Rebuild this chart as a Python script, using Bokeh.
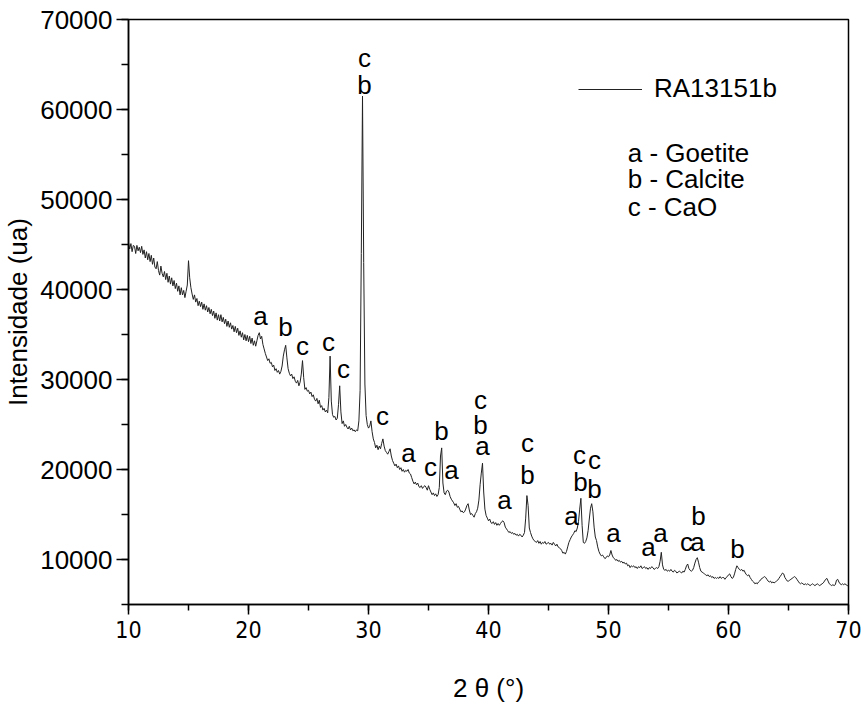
from bokeh.plotting import figure
from bokeh.models import (Range1d, SingleIntervalTicker, Legend, LegendItem,
                          ColumnDataSource, BasicTickFormatter)
from bokeh.core.properties import value
from bokeh.embed import file_html
from bokeh.resources import INLINE

# ---------------- data ----------------
series_name = "RA13151b"
# 2-theta sampling grid, 0.1 degree step from 10 to 70
two_theta = [round(10 + i * 0.1, 1) for i in range(601)]
# intensity, one row per degree (x = d.0 ... d.9)
intensity = [
    45200, 44500, 45100, 44200, 44900, 44800, 44000, 44900, 44300, 44700,  # 10
    44100, 44800, 43900, 44400, 43500, 44200, 43300, 44000, 43100, 43800,  # 11
    42800, 43500, 42500, 42300, 43100, 42100, 41600, 42600, 41800, 41400,  # 12
    42000, 41100, 41800, 40800, 41500, 40600, 41300, 40400, 41000, 40100,  # 13
    40700, 39800, 40400, 39400, 40200, 39400, 39900, 39100, 39800, 40500,  # 14
    43200, 41300, 40200, 39500, 38900, 39400, 38600, 39000, 38200, 38700,  # 15
    38100, 38600, 37800, 38400, 37700, 38200, 37500, 38000, 37300, 37800,  # 16
    37100, 37600, 36800, 37400, 36600, 37200, 36500, 37200, 36400, 36900,  # 17
    36200, 36700, 35900, 36500, 35800, 36300, 35600, 36000, 35300, 35900,  # 18
    35200, 35700, 34900, 35400, 34700, 35200, 34400, 35000, 34300, 34900,  # 19
    34200, 34800, 34000, 34600, 33800, 34300, 33700, 34300, 34900, 35200,  # 20
    34500, 34800, 33900, 33400, 32900, 32500, 32100, 32300, 31800, 31900,  # 21
    31400, 31600, 31000, 31200, 30800, 31000, 30600, 30900, 31500, 32600,  # 22
    33300, 33800, 32400, 31200, 30700, 30400, 30600, 30100, 30300, 29800,  # 23
    29600, 29900, 29300, 29700, 30600, 32100, 30200, 28900, 29100, 28700,  # 24
    28800, 28400, 28600, 28100, 28300, 27800, 27600, 27900, 27300, 27700,  # 25
    26900, 27100, 26600, 26800, 26400, 26600, 26300, 28000, 32600, 27600,  # 26
    26100, 25800, 25900, 25500, 25700, 27200, 29300, 26400, 25100, 25400,  # 27
    24800, 25000, 24700, 24500, 24800, 24400, 24600, 24300, 24400, 24200,  # 28
    24400, 24300, 25400, 28800, 44000, 61500, 43000, 29500, 26000, 25000,  # 29
    24600, 24800, 25400, 24200, 23400, 23000, 22400, 22700, 22200, 22600,  # 30
    22300, 22900, 23400, 22600, 22100, 21900, 21700, 22000, 22300, 21500,  # 31
    21000, 20700, 20400, 20600, 20200, 20400, 20000, 20200, 19800, 20000,  # 32
    19700, 19900, 19800, 20000, 19600, 19500, 19100, 18700, 18400, 18600,  # 33
    18300, 18500, 18100, 18000, 18200, 17900, 18100, 18200, 18000, 17700,  # 34
    18200, 17800, 17500, 17200, 17400, 17100, 17300, 17000, 17200, 18000,  # 35
    21500, 22400, 18500, 17400, 17200, 17600, 17700, 17500, 17000, 16700,  # 36
    16500, 16300, 16000, 16200, 15800, 15900, 15600, 15300, 15400, 15200,  # 37
    15300, 15600, 16000, 16200, 15500, 15000, 15100, 14900, 14700, 15100,  # 38
    15300, 15700, 16600, 18300, 19600, 20700, 17500, 15600, 14900, 14600,  # 39
    14300, 14500, 14100, 14000, 14200, 13900, 14100, 13800, 14000, 13800,  # 40
    14000, 14200, 14300, 14100, 13600, 13400, 13200, 13000, 13100, 12900,  # 41
    13000, 12800, 12900, 12700, 12800, 12600, 12800, 12700, 12500, 12700,  # 42
    13000, 14600, 17100, 16000, 13500, 13000, 12600, 12300, 12100, 12000,  # 43
    11900, 12100, 11800, 12000, 11700, 11900, 11800, 12000, 11700, 11800,  # 44
    11900, 11700, 11800, 11600, 11900, 11700, 11500, 11700, 11400, 11300,  # 45
    11200, 11000, 10700, 10800, 10600, 10900, 11400, 11900, 12200, 12500,  # 46
    12700, 12900, 13200, 13100, 13500, 14200, 15600, 16800, 13800, 11900,  # 47
    11800, 12000, 12400, 13200, 14500, 15700, 16200, 15300, 13600, 12500,  # 48
    12100, 11400, 10900, 10600, 10400, 10500, 10300, 10100, 10200, 10400,  # 49
    10300, 10500, 11000, 10500, 10200, 10100, 9900, 10000, 9800, 9900,     # 50
    9700, 9800, 9600, 9700, 9500, 9600, 9300, 9400, 9100, 9300,            # 51
    9200, 9300, 9100, 9200, 9000, 9200, 9100, 9300, 9000, 9100,            # 52
    9200, 9000, 9100, 8900, 9100, 9000, 9200, 9100, 8900, 9000,            # 53
    9100, 9000, 9200, 9800, 10800, 9400, 8900, 8800, 8900, 8700,           # 54
    8800, 8700, 8900, 8700, 8600, 8800, 8700, 8500, 8600, 8700,            # 55
    8600, 8500, 8700, 8600, 8900, 9300, 9500, 9000, 8800, 8700,            # 56
    8800, 9100, 9600, 10000, 10200, 9700, 9100, 8700, 8600, 8500,          # 57
    8400, 8300, 8200, 8300, 8100, 8200, 8000, 8100, 7900, 8000,            # 58
    7900, 8000, 7900, 8100, 7900, 8000, 8000, 7800, 8000, 8100,            # 59
    8300, 8400, 8100, 7900, 8000, 8400, 8900, 9300, 9100, 8900,            # 60
    8800, 8900, 8700, 8800, 8500, 8300, 8200, 8300, 8000, 7800,            # 61
    7600, 7500, 7300, 7400, 7300, 7500, 7600, 7800, 7900, 8000,            # 62
    8100, 8000, 7800, 7600, 7500, 7600, 7400, 7500, 7400, 7500,            # 63
    7600, 7700, 7900, 8100, 8300, 8500, 8400, 8000, 7800, 7600,            # 64
    7600, 7700, 7800, 7900, 8000, 8100, 8000, 7800, 7600, 7400,            # 65
    7300, 7400, 7300, 7200, 7300, 7200, 7300, 7200, 7100, 7200,            # 66
    7300, 7200, 7100, 7200, 7300, 7200, 7100, 7200, 7300, 7400,            # 67
    7600, 7800, 7900, 7600, 7300, 7200, 7100, 7200, 7100, 7200,            # 68
    7700, 7800, 7500, 7300, 7200, 7300, 7200, 7300, 7200, 7100,            # 69
    7100,                                                                  # 70
]

# phase letters placed over the peaks
peak_label = ["c", "b", "a", "b", "c", "c", "c", "c", "a", "c",
              "b", "a", "c", "b", "a", "a", "c", "b", "a", "c",
              "b", "c", "b", "a", "a", "a", "c", "a", "b", "b"]
peak_label_x = [29.67, 29.67, 21.0, 23.08, 24.5, 26.67, 27.92, 31.17, 33.33, 35.17,
                36.08, 36.92, 39.33, 39.33, 39.5, 41.33, 43.25, 43.25, 46.92, 47.58,
                47.67, 48.83, 48.83, 50.42, 53.33, 54.33, 56.5, 57.42, 57.5, 60.75]
peak_label_y = [65700, 62700, 37100, 35800, 33700, 34200, 31200, 26000, 21800, 20300,
                24300, 19900, 27700, 25000, 22600, 16600, 22900, 19400, 14800, 21600,
                18600, 21100, 17800, 13000, 11400, 13000, 12000, 12000, 14800, 11200]

phase_key = ["a - Goetite", "b - Calcite", "c - CaO"]
phase_key_x = [51.6, 51.6, 51.6]
phase_key_y = [55200, 52300, 49200]

x_title = "2 \u03b8 (\u00b0)"
y_title = "Intensidade (ua)"

FONT = "Liberation Sans"
NARROW = "'DejaVu Sans Condensed', 'Liberation Sans'"

# ---------------- figure ----------------
p = figure(width=865, height=706, output_backend="svg", toolbar_location=None,
           x_range=Range1d(10, 70), y_range=Range1d(5000, 70000),
           min_border_left=128, min_border_right=17, min_border_top=19,
           min_border_bottom=102)

p.xgrid.visible = False
p.ygrid.visible = False
p.background_fill_color = "white"
p.border_fill_color = "white"
p.outline_line_color = "black"
p.outline_line_width = 1.5

line = p.line(two_theta, intensity, line_color="#222222", line_width=1)

src = ColumnDataSource(dict(x=peak_label_x, y=peak_label_y, t=peak_label))
p.text("x", "y", text="t", source=src, text_align="center", text_baseline="middle",
       text_font=value(FONT), text_font_size="26px", text_color="black")

src2 = ColumnDataSource(dict(x=phase_key_x, y=phase_key_y, t=phase_key))
p.text("x", "y", text="t", source=src2, text_align="left", text_baseline="middle",
       text_font=value(FONT), text_font_size="26px", text_color="black")

legend = Legend(items=[LegendItem(label=series_name, renderers=[line])],
                location=(450, 500), padding=0, margin=0, spacing=0,
                glyph_width=64, glyph_height=26, label_height=26, label_standoff=12,
                label_text_font=FONT, label_text_font_size="26px",
                label_text_color="black",
                border_line_alpha=0, background_fill_alpha=0)
p.add_layout(legend, "center")

# axes
xa = p.xaxis[0]
xa.ticker = SingleIntervalTicker(interval=10, num_minor_ticks=2)
xa.axis_label = x_title
xa.axis_label_text_font = FONT
xa.axis_label_text_font_size = "26px"
xa.axis_label_text_font_style = "normal"
xa.axis_label_text_color = "black"
xa.axis_label_standoff = 32
xa.major_label_text_font = NARROW
xa.major_label_text_font_size = "23px"
xa.major_label_text_color = "black"
xa.major_label_standoff = 6
xa.major_tick_out = 10
xa.major_tick_in = 0
xa.minor_tick_out = 6
xa.minor_tick_in = 0
xa.axis_line_width = 1.5
xa.axis_line_color = "black"
xa.major_tick_line_width = 1.5
xa.minor_tick_line_width = 1.5
xa.major_tick_line_color = "black"
xa.minor_tick_line_color = "black"

ya = p.yaxis[0]
ya.ticker = SingleIntervalTicker(interval=10000, num_minor_ticks=2)
ya.formatter = BasicTickFormatter(use_scientific=False)
ya.axis_label = y_title
ya.axis_label_text_font = FONT
ya.axis_label_text_font_size = "26px"
ya.axis_label_text_font_style = "normal"
ya.axis_label_text_color = "black"
ya.axis_label_standoff = 4
ya.major_label_text_font = FONT
ya.major_label_text_font_size = "26px"
ya.major_label_text_color = "black"
ya.major_label_standoff = 4
ya.major_tick_out = 12
ya.major_tick_in = 0
ya.minor_tick_out = 7
ya.minor_tick_in = 0
ya.axis_line_width = 1.5
ya.axis_line_color = "black"
ya.major_tick_line_width = 1.5
ya.minor_tick_line_width = 1.5
ya.major_tick_line_color = "black"
ya.minor_tick_line_color = "black"

open("out.html", "w").write(file_html(p, INLINE))
